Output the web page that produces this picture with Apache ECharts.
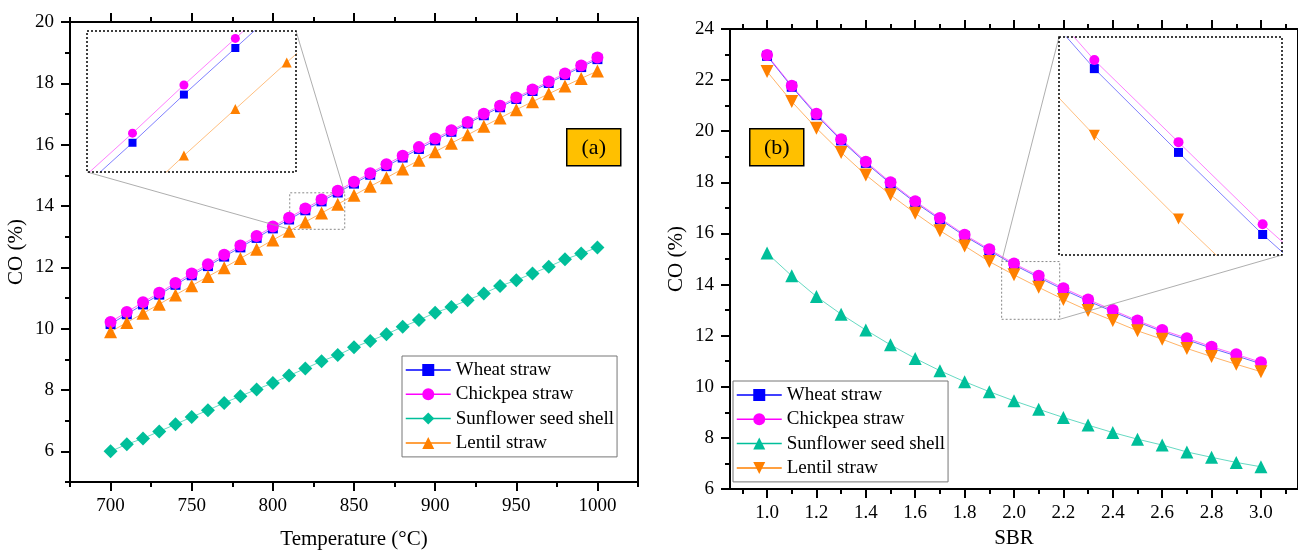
<!DOCTYPE html>
<html>
<head>
<meta charset="utf-8">
<title>CO (%) vs temperature and SBR</title>
<script src="https://cdn.jsdelivr.net/npm/echarts@6/dist/echarts.min.js"></script>
<style>
  html, body { margin: 0; padding: 0; background: #fff; }
  #chart { width: 1298px; height: 556px; }
</style>
</head>
<body>
<div id="chart"></div>
<script>
  // ---- panel (a): CO vs temperature ----
  let temperature = [700, 710, 720, 730, 740, 750, 760, 770, 780, 790, 800, 810, 820, 830, 840, 850,
    860, 870, 880, 890, 900, 910, 920, 930, 940, 950, 960, 970, 980, 990, 1000]
  let wheatA = [10.15, 10.47, 10.79, 11.11, 11.43, 11.74, 12.04, 12.35, 12.65, 12.96, 13.27, 13.56, 13.86, 14.15, 14.44, 14.73,
    15.02, 15.30, 15.58, 15.86, 16.14, 16.42, 16.69, 16.96, 17.22, 17.49, 17.75, 18.01, 18.27, 18.53, 18.79]
  let chickpeaA = [10.22, 10.54, 10.86, 11.17, 11.49, 11.80, 12.10, 12.41, 12.71, 13.02, 13.33, 13.62, 13.92, 14.21, 14.50, 14.79,
    15.07, 15.36, 15.64, 15.92, 16.20, 16.47, 16.74, 17.01, 17.27, 17.54, 17.80, 18.06, 18.32, 18.58, 18.84]
  let sunflowerA = [6.00, 6.23, 6.42, 6.65, 6.88, 7.12, 7.34, 7.58, 7.80, 8.02, 8.23, 8.47, 8.70, 8.94, 9.14, 9.39,
    9.60, 9.82, 10.06, 10.28, 10.52, 10.71, 10.93, 11.15, 11.39, 11.58, 11.80, 12.02, 12.26, 12.45, 12.65]
  let lentilA = [9.90, 10.20, 10.50, 10.80, 11.10, 11.40, 11.70, 11.99, 12.29, 12.59, 12.89, 13.18, 13.48, 13.77, 14.06, 14.35,
    14.64, 14.92, 15.21, 15.49, 15.77, 16.05, 16.32, 16.60, 16.87, 17.14, 17.40, 17.66, 17.91, 18.16, 18.40]

  // ---- panel (b): CO vs SBR ----
  let sbr = [1.0, 1.1, 1.2, 1.3, 1.4, 1.5, 1.6, 1.7, 1.8, 1.9, 2.0, 2.1, 2.2, 2.3, 2.4, 2.5, 2.6, 2.7, 2.8, 2.9, 3.0]
  let wheatB = [22.95, 21.74, 20.63, 19.64, 18.76, 17.95, 17.21, 16.55, 15.90, 15.33, 14.77, 14.28, 13.80, 13.36, 12.94,
    12.54, 12.16, 11.84, 11.51, 11.21, 10.90]
  let chickpeaB = [22.98, 21.78, 20.68, 19.69, 18.81, 18.00, 17.26, 16.60, 15.95, 15.38, 14.82, 14.34, 13.86, 13.42, 13.00,
    12.59, 12.22, 11.90, 11.57, 11.27, 10.96]
  let sunflowerB = [15.23, 14.34, 13.53, 12.84, 12.22, 11.64, 11.11, 10.63, 10.20, 9.81, 9.45, 9.12, 8.80, 8.50, 8.21,
    7.95, 7.72, 7.45, 7.24, 7.04, 6.87]
  let lentilB = [22.34, 21.16, 20.12, 19.17, 18.29, 17.51, 16.79, 16.11, 15.51, 14.90, 14.38, 13.89, 13.42, 12.98, 12.59,
    12.19, 11.86, 11.50, 11.18, 10.88, 10.59]

  // tick values
  let xMajorA = [700, 750, 800, 850, 900, 950, 1000]
  let xMinorA = [675, 725, 775, 825, 875, 925, 975, 1025]
  let yMajorA = [6, 8, 10, 12, 14, 16, 18, 20]
  let yMinorA = [5, 7, 9, 11, 13, 15, 17, 19]
  let xMajorB = [1.0, 1.2, 1.4, 1.6, 1.8, 2.0, 2.2, 2.4, 2.6, 2.8, 3.0]
  let xMinorB = [0.9, 1.1, 1.3, 1.5, 1.7, 1.9, 2.1, 2.3, 2.5, 2.7, 2.9, 3.1]
  let yMajorB = [6, 8, 10, 12, 14, 16, 18, 20, 22, 24]
  let yMinorB = [7, 9, 11, 13, 15, 17, 19, 21, 23]

  let names = ['Wheat straw', 'Chickpea straw', 'Sunflower seed shell', 'Lentil straw']
  let colors = ['#0000FF', '#FF00FF', '#00BF9A', '#FF8000']

  // zoom windows (data ranges shown in the insets and the boxes they come from)
  let zoomA = { x: [801.15, 841.8], y: [13.378, 14.256], src: [[810.4, 13.24], [844.3, 14.43]] }
  let zoomB = { x: [1.958, 2.223], y: [13.68, 14.955], src: [[1.95, 12.64], [2.185, 14.9]] }

  const FONT = 'Liberation Serif'
  const insetA = { left: 87, top: 31, width: 209, height: 141 }
  const insetB = { left: 1059, top: 37, width: 223, height: 218 }

  let pair = (xs, ys) => xs.map((x, i) => [x, ys[i]])
  let black = { color: '#000', width: 2 }

  function tickAxis (gi, position, min, max, values, len, opts) {
    let ax = {
      gridIndex: gi, type: 'value', position: position, min: min, max: max,
      axisLine: { show: false, onZero: false },
      axisTick: { show: true, inside: false, length: len, lineStyle: black, customValues: values },
      axisLabel: { show: false },
      splitLine: { show: false }
    }
    return Object.assign(ax, opts || {})
  }

  function labelled (values, fmt, margin) {
    return {
      axisLine: { show: true, onZero: false, lineStyle: black },
      axisLabel: { show: true, customValues: values, formatter: fmt, margin: margin,
        fontFamily: FONT, fontSize: 19, color: '#000' }
    }
  }

  function nameOpts (name, gap, rotate) {
    return { name: name, nameLocation: 'middle', nameGap: gap, nameRotate: rotate,
      nameTextStyle: { fontFamily: FONT, fontSize: 21, color: '#000' } }
  }

  function panelX (gi, min, max, major, minor, fmt, name, gap) {
    return [
      tickAxis(gi, 'bottom', min, max, major, 9, Object.assign(labelled(major, fmt, 15), nameOpts(name, gap, 0))),
      tickAxis(gi, 'bottom', min, max, minor, 5),
      tickAxis(gi, 'top', min, max, major, 9, { axisLine: { show: true, onZero: false, lineStyle: black } }),
      tickAxis(gi, 'top', min, max, minor, 5)
    ]
  }

  function panelY (gi, min, max, major, minor, name, gap) {
    return [
      tickAxis(gi, 'left', min, max, major, 9, Object.assign(labelled(major, v => v, 16), nameOpts(name, gap, 90))),
      tickAxis(gi, 'left', min, max, minor, 5),
      { gridIndex: gi, type: 'value', position: 'right', min: min, max: max,
        axisLine: { show: true, onZero: false, lineStyle: black },
        axisTick: { show: false }, axisLabel: { show: false }, splitLine: { show: false } }
    ]
  }

  function hiddenAxis (gi, range) {
    return { gridIndex: gi, type: 'value', min: range[0], max: range[1], show: false }
  }

  function line (name, xi, yi, data, color, symbol, size, rotate, opacity) {
    return {
      name: name, type: 'line', xAxisIndex: xi, yAxisIndex: yi, data: data,
      symbol: symbol, symbolSize: size, symbolRotate: rotate || 0, showSymbol: true,
      clip: true, animation: false,
      itemStyle: { color: color },
      lineStyle: { color: color, width: 1, opacity: opacity }
    }
  }

  // right panel series get a trailing space so each legend takes its own icons
  let namesB = names.map(n => n + ' ')

  let series = [
    // (a) main, x 0 / y 0
    line(names[0], 0, 0, pair(temperature, wheatA), colors[0], 'rect', 10, 0, 0.6),
    line(names[1], 0, 0, pair(temperature, chickpeaA), colors[1], 'circle', 12, 0, 0.6),
    line(names[2], 0, 0, pair(temperature, sunflowerA), colors[2], 'diamond', 14, 0, 0.6),
    line(names[3], 0, 0, pair(temperature, lentilA), colors[3], 'triangle', 13, 0, 0.6),
    // (b) main, x 5 / y 4
    line(namesB[0], 5, 4, pair(sbr, wheatB), colors[0], 'rect', 10, 0, 0.6),
    line(namesB[1], 5, 4, pair(sbr, chickpeaB), colors[1], 'circle', 12, 0, 0.6),
    line(namesB[2], 5, 4, pair(sbr, sunflowerB), colors[2], 'triangle', 13, 0, 0.6),
    line(namesB[3], 5, 4, pair(sbr, lentilB), colors[3], 'triangle', 13, 180, 0.6),
    // insets
    line(names[0], 4, 3, pair(temperature, wheatA), colors[0], 'rect', 8, 0, 0.5),
    line(names[1], 4, 3, pair(temperature, chickpeaA), colors[1], 'circle', 9, 0, 0.5),
    line(names[3], 4, 3, pair(temperature, lentilA), colors[3], 'triangle', 10, 0, 0.5),
    line(namesB[0], 9, 7, pair(sbr, wheatB), colors[0], 'rect', 9, 0, 0.5),
    line(namesB[1], 9, 7, pair(sbr, chickpeaB), colors[1], 'circle', 10, 0, 0.5),
    line(namesB[3], 9, 7, pair(sbr, lentilB), colors[3], 'triangle', 11, 180, 0.5)
  ]

  // source boxes of the zooms, in data coordinates
  series[0].markArea = {
    silent: true,
    itemStyle: { color: 'transparent', borderColor: '#888', borderWidth: 1, borderType: [2, 2] },
    data: [[{ coord: zoomA.src[0] }, { coord: zoomA.src[1] }]]
  }
  series[4].markArea = {
    silent: true,
    itemStyle: { color: 'transparent', borderColor: '#888', borderWidth: 1, borderType: [2, 2] },
    data: [[{ coord: zoomB.src[0] }, { coord: zoomB.src[1] }]]
  }

  function legend (left, top, list) {
    return {
      left: left, top: top, orient: 'vertical',
      data: list, formatter: n => n.trim(),
      itemWidth: 45, itemHeight: 15, itemGap: 5.3,
      padding: [4.5, 3, 4.5, 3],
      borderColor: '#777', borderWidth: 1, backgroundColor: '#fff',
      lineStyle: { opacity: 1, width: 1.5 },
      selectedMode: false,
      textStyle: { fontFamily: FONT, fontSize: 19, color: '#000', lineHeight: 19, padding: [0, 0, 0, 0] }
    }
  }

  function tag (left, top, text) {
    return {
      type: 'group', left: left, top: top, z: 100,
      children: [
        { type: 'rect', shape: { x: 0, y: 0, width: 54, height: 37 },
          style: { fill: '#FFC000', stroke: '#000', lineWidth: 1.5 } },
        { type: 'text', x: 27, y: 19,
          style: { text: text, fill: '#000', font: '22px "Liberation Serif"', align: 'center', verticalAlign: 'middle' } }
      ]
    }
  }

  function frame (r) {
    return { type: 'rect', z: 50,
      shape: { x: r.left, y: r.top, width: r.width, height: r.height },
      style: { fill: 'none', stroke: '#000', lineWidth: 1.5, lineDash: [2, 2] } }
  }

  let option = {
    backgroundColor: '#fff',
    animation: false,
    grid: [
      { left: 70, top: 22, width: 568, height: 460 },
      insetA,
      { left: 730, top: 29, width: 571, height: 460 },
      insetB
    ],
    xAxis: [].concat(
      panelX(0, 675, 1025, xMajorA, xMinorA, v => v, 'Temperature (°C)', 47),
      [hiddenAxis(1, zoomA.x)],
      panelX(2, 0.85, 3.15, xMajorB, xMinorB, v => v.toFixed(1), 'SBR', 33),
      [hiddenAxis(3, zoomB.x)]
    ),
    yAxis: [].concat(
      panelY(0, 5, 20, yMajorA, yMinorA, 'CO (%)', 43),
      [hiddenAxis(1, zoomA.y)],
      panelY(2, 6, 24, yMajorB, yMinorB, 'CO (%)', 43),
      [hiddenAxis(3, zoomB.y)]
    ),
    legend: [legend(402, 356, names), legend(733, 381, namesB)],
    series: series,
    graphic: [tag(566, 128, '(a)'), tag(749, 128, '(b)'), frame(insetA), frame(insetB)]
  }

  let chart = echarts.init(document.getElementById('chart'))
  chart.setOption(option)

  // connector lines from the inset frames to their source boxes
  let pA0 = chart.convertToPixel({ gridIndex: 0 }, zoomA.src[0])
  let pA1 = chart.convertToPixel({ gridIndex: 0 }, zoomA.src[1])
  let pB0 = chart.convertToPixel({ gridIndex: 2 }, [zoomB.src[0][0], zoomB.src[1][1]])
  let pB1 = chart.convertToPixel({ gridIndex: 2 }, [zoomB.src[1][0], zoomB.src[0][1]])
  let link = (x1, y1, x2, y2) => ({ type: 'line', z: 40, shape: { x1: x1, y1: y1, x2: x2, y2: y2 },
    style: { stroke: '#999', lineWidth: 0.8 } })
  chart.setOption({
    graphic: option.graphic.concat([
      link(insetA.left, insetA.top + insetA.height, pA0[0], pA0[1]),
      link(insetA.left + insetA.width, insetA.top, pA1[0], pA1[1]),
      link(insetB.left, insetB.top, pB0[0], pB0[1]),
      link(insetB.left + insetB.width, insetB.top + insetB.height, pB1[0], pB1[1])
    ])
  })
</script>
</body>
</html>
